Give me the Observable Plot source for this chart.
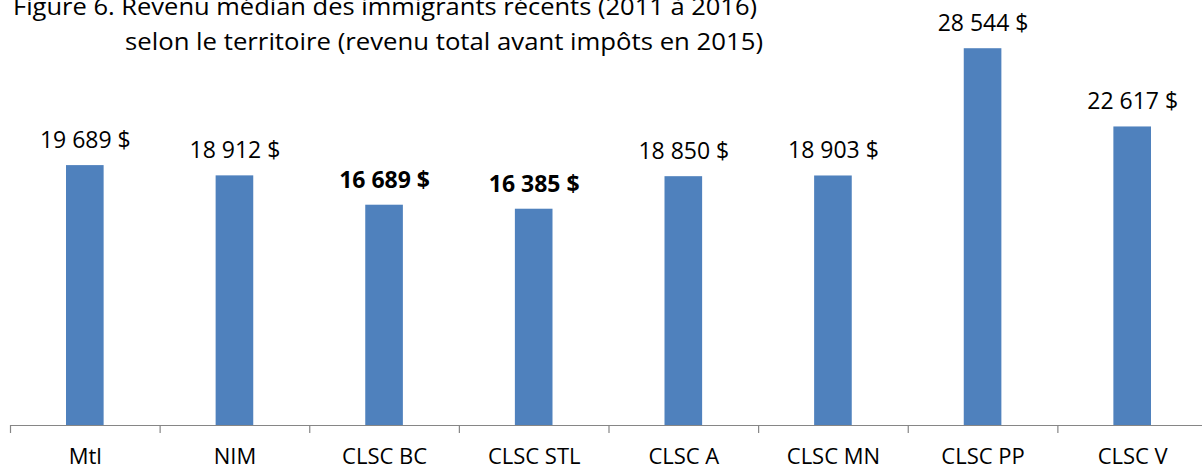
<!DOCTYPE html>
<html><head><meta charset="utf-8">
<script src="https://cdn.jsdelivr.net/npm/d3@7"></script>
<script src="https://cdn.jsdelivr.net/npm/@observablehq/plot@0.6"></script>
<style>
html,body{margin:0;padding:0;background:#fff;}
#wrap{position:relative;width:1202px;height:471px;overflow:hidden;font-family:"Open Sans",sans-serif;}
.title{position:absolute;white-space:nowrap;font-size:23px;color:#000;line-height:1;transform-origin:0 0;}
#chart{position:absolute;left:0;top:0;}
</style></head><body>
<div id="wrap">
  <div id="chart"></div>
  <div class="title" id="t1"></div>
  <div class="title" id="t2"></div>
</div>
<script>
const titleLines = [
  "Figure 6. Revenu médian des immigrants récents (2011 à 2016)",
  "selon le territoire (revenu total avant impôts en 2015)"
];
const categories = ["Mtl", "NIM", "CLSC BC", "CLSC STL", "CLSC A", "CLSC MN", "CLSC PP", "CLSC V"];
const values = [19689, 18912, 16689, 16385, 18850, 18903, 28544, 22617];
const boldCategories = ["CLSC BC", "CLSC STL"];

const data = categories.map((c, i) => ({cat: c, value: values[i], i}));
const fmt = v => String(v).replace(/\B(?=(\d{3})+(?!\d))/g, " ") + " $";

const W = 1210, H = 471;
const chart = Plot.plot({
  width: W, height: H,
  marginLeft: 10, marginRight: 3, marginTop: 29, marginBottom: 46,
  style: {fontFamily: '"Open Sans", sans-serif', background: "#fff", maxWidth: "none"},
  x: {type: "linear", domain: [0, categories.length], axis: null},
  y: {domain: [0, 30000], axis: null},
  marks: [
    Plot.rectY(data, {x1: d => d.i, x2: d => d.i + 1, y: "value", fill: "#4F81BD", insetLeft: 56, insetRight: 56}),
    Plot.ruleY([0], {stroke: "#868686", strokeWidth: 1.2}),
    Plot.axisX({ticks: d3.range(categories.length + 1), tickSize: 8, tickFormat: () => "", stroke: "#868686", strokeWidth: 1.2}),
    Plot.axisX({ticks: categories.map((c, i) => i + 0.5), tickSize: 0, tickPadding: 23,
      tickFormat: v => categories[Math.floor(v)], fontSize: 22, fill: "#000"}),
    Plot.text(data.filter(d => !boldCategories.includes(d.cat)), {x: d => d.i + 0.5, y: "value", text: d => fmt(d.value),
      dy: -25, lineAnchor: "middle", fontSize: 23, fill: "#000"}),
    Plot.text(data.filter(d => boldCategories.includes(d.cat)), {x: d => d.i + 0.5, y: "value", text: d => fmt(d.value),
      dy: -25, lineAnchor: "middle", fontSize: 23, fontWeight: "bold", fill: "#000"})
  ]
});
document.getElementById("chart").appendChild(chart);

const t1 = document.getElementById("t1"), t2 = document.getElementById("t2");
t1.textContent = titleLines[0];
t2.textContent = titleLines[1];
function place(el, left, baseline, targetWidth) {
  el.style.left = left + "px";
  el.style.top = (baseline - 0.888 * 23) + "px";
  const w = el.getBoundingClientRect().width;
  el.style.transform = `scaleX(${targetWidth / w})`;
}
place(t1, 13, 15, 744);
place(t2, 125, 50, 638);
</script>
</body></html>
